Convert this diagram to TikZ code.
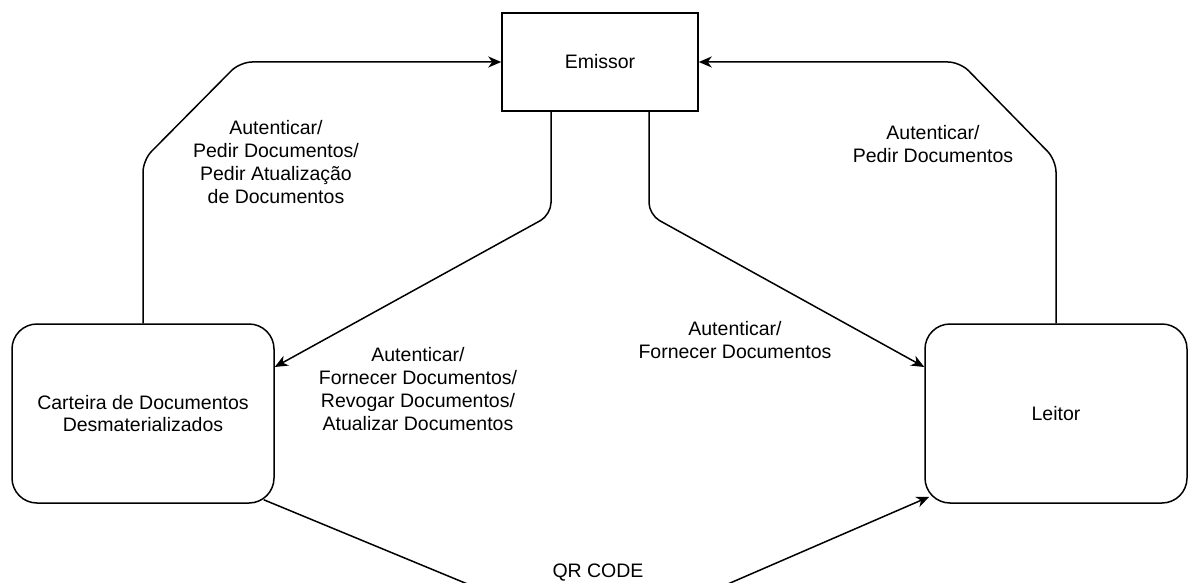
\documentclass[tikz,border=0pt]{standalone}
\usepackage{fontspec}
\setmainfont{Liberation Sans}
\usetikzlibrary{arrows.meta,calc}

\tikzset{
  txt/.style={font=\fontsize{19.5}{22.8}\selectfont, align=center, inner sep=3pt},
  plainbox/.style={draw, line width=1.5pt, txt},
  roundbox/.style={draw, line width=1.5pt, rounded corners=25pt, txt},
  conn/.style={line width=1.5pt, rounded corners=12pt,
    -{Stealth[length=13pt, width=11pt, inset=4pt]}},
  edgelabel/.style={txt},
}

\begin{document}
\begin{tikzpicture}[x=1pt, y=-1pt]
  \useasboundingbox (0,0) rectangle (1188,583);
  \clip (0,0) rectangle (1188,583);

  % entities
  \node[plainbox, minimum width=196pt, minimum height=98pt] (em) at (600,62) {Emissor};
  \node[roundbox, minimum width=262pt, minimum height=179pt] (cart) at (143,413.5)
    {Carteira de Documentos\\Desmaterializados};
  \node[roundbox, minimum width=262pt, minimum height=179pt] (lei) at (1056,413.5) {Leitor};

  % wallet and reader to issuer
  \draw[conn] (cart.north) -- (143,160) -- (240,62) -- (em.west);
  \draw[conn] (lei.north) -- (1056,160) -- (960,62) -- (em.east);

  % issuer to wallet and reader
  \draw[conn] ([xshift=-49pt]em.south) -- ++(0,103) -- ($(cart.east)+(0,-46.5)$);
  \draw[conn] ([xshift=49pt]em.south) -- ++(0,103) -- ($(lei.west)+(0,-46.5)$);

  % wallet to reader through the QR code
  \draw[conn] ($(cart.south east)+(-11,-4)$) -- (482,590) -- (714,590)
    -- ($(lei.south west)+(5,-7)$);

  % connector labels
  \node[edgelabel] (l1) at (276,162)
    {Autenticar/\\Pedir Documentos/\\Pedir Atualização\\de Documentos};
  \node[edgelabel] (l2) at (933,144) {Autenticar/\\Pedir Documentos};
  \node[edgelabel] (l3) at (735,340) {Autenticar/\\Fornecer Documentos};
  \node[edgelabel, fill=white] (l4) at (418,389)
    {Autenticar/\\Fornecer Documentos/\\Revogar Documentos/\\Atualizar Documentos};
  \node[edgelabel] (l5) at (598,573) {QR CODE};
\end{tikzpicture}
\end{document}
